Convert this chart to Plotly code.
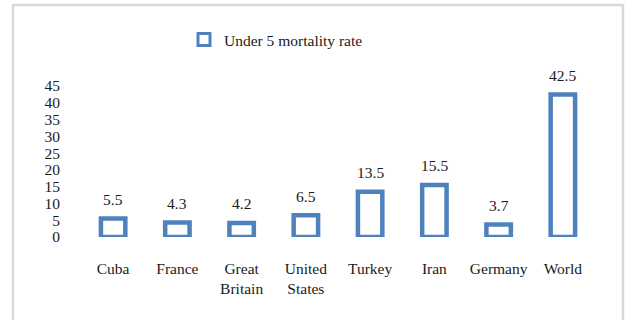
import plotly.graph_objects as go

categories = ["Cuba", "France", "Great<br>Britain", "United<br>States", "Turkey", "Iran", "Germany", "World"]
values = [5.5, 4.3, 4.2, 6.5, 13.5, 15.5, 3.7, 42.5]
series_name = "Under 5 mortality rate"
y_ticks = [0, 5, 10, 15, 20, 25, 30, 35, 40, 45]

BLUE = "#4f81bd"
FONT = "Liberation Serif, Times New Roman, serif"
W, H = 629, 320
ML, MR, MT, MB = 81, 34, 86, 83

fig = go.Figure()
fig.add_trace(go.Bar(
    x=categories, y=values, name=series_name,
    marker=dict(color="white", line=dict(color=BLUE, width=4.5)),
    width=0.38, cliponaxis=False, showlegend=False, legendgroup="s",
))
# legend entry (thinner outline, like the reference legend key)
fig.add_trace(go.Bar(
    x=[categories[0]], y=[None], name=series_name,
    marker=dict(color="white", line=dict(color=BLUE, width=3)),
    showlegend=True, legendgroup="s", hoverinfo="skip",
))

for c, v in zip(categories, values):
    fig.add_annotation(x=c, y=v, text=f"{v}", showarrow=False, yanchor="middle",
                       yshift=19, font=dict(family=FONT, size=15.5, color="#1a1a1a"))

pw = W - ML - MR
ph = H - MT - MB
# outer chart border (gray)
fig.add_shape(type="rect", xref="paper", yref="paper",
              x0=(13 - ML) / pw, x1=(623 - ML) / pw,
              y0=(H - MB - 330) / ph, y1=(H - MB - 5) / ph,
              line=dict(color="#d9d9d9", width=2.5), fillcolor="rgba(0,0,0,0)", layer="below")

fig.update_layout(
    width=W, height=H,
    margin=dict(l=ML, r=MR, t=MT, b=MB),
    paper_bgcolor="white", plot_bgcolor="white",
    font=dict(family=FONT, size=15.5, color="#1a1a1a"),
    barmode="overlay",
    showlegend=True,
    legend=dict(orientation="h", x=(184 - ML) / pw, xanchor="left",
                y=(H - MB - 40) / ph, yanchor="middle",
                font=dict(family=FONT, size=15.5, color="#1a1a1a"),
                bgcolor="rgba(0,0,0,0)"),
    xaxis=dict(showgrid=False, showline=False, zeroline=False, ticks="",
               ticklabelstandoff=20, tickfont=dict(family=FONT, size=15.5)),
    yaxis=dict(range=[0, 45], tickvals=y_ticks, showgrid=False, showline=False,
               zeroline=False, ticks="", ticklabelstandoff=20,
               tickfont=dict(family=FONT, size=15.5)),
)

fig.write_html("out.html")
